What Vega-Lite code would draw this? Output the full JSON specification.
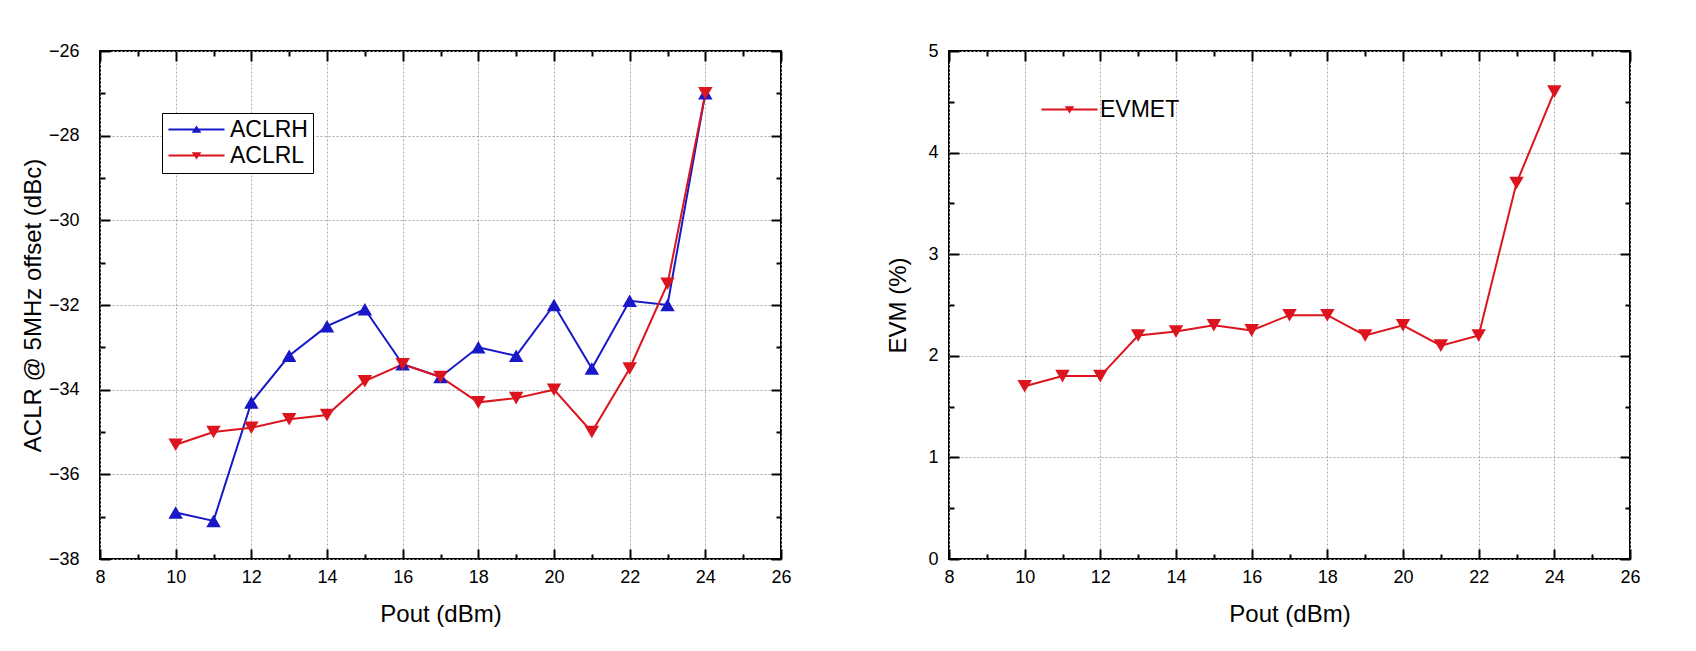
{
  "$schema": "https://vega.github.io/schema/vega-lite/v6.json",
  "padding": {"left": 20, "top": 41, "right": 0, "bottom": 0},
  "background": "white",
  "bounds": "flush",
  "spacing": 168,
  "resolve": {"scale": {"color": "independent"}},
  "datasets": {
    "aclr": [
      {"pout": 10, "series": "ACLRH", "value": -36.9},
      {"pout": 11, "series": "ACLRH", "value": -37.1},
      {"pout": 12, "series": "ACLRH", "value": -34.3},
      {"pout": 13, "series": "ACLRH", "value": -33.2},
      {"pout": 14, "series": "ACLRH", "value": -32.5},
      {"pout": 15, "series": "ACLRH", "value": -32.1},
      {"pout": 16, "series": "ACLRH", "value": -33.4},
      {"pout": 17, "series": "ACLRH", "value": -33.7},
      {"pout": 18, "series": "ACLRH", "value": -33.0},
      {"pout": 19, "series": "ACLRH", "value": -33.2},
      {"pout": 20, "series": "ACLRH", "value": -32.0},
      {"pout": 21, "series": "ACLRH", "value": -33.5},
      {"pout": 22, "series": "ACLRH", "value": -31.9},
      {"pout": 23, "series": "ACLRH", "value": -32.0},
      {"pout": 24, "series": "ACLRH", "value": -27.0},
      {"pout": 10, "series": "ACLRL", "value": -35.3},
      {"pout": 11, "series": "ACLRL", "value": -35.0},
      {"pout": 12, "series": "ACLRL", "value": -34.9},
      {"pout": 13, "series": "ACLRL", "value": -34.7},
      {"pout": 14, "series": "ACLRL", "value": -34.6},
      {"pout": 15, "series": "ACLRL", "value": -33.8},
      {"pout": 16, "series": "ACLRL", "value": -33.4},
      {"pout": 17, "series": "ACLRL", "value": -33.7},
      {"pout": 18, "series": "ACLRL", "value": -34.3},
      {"pout": 19, "series": "ACLRL", "value": -34.2},
      {"pout": 20, "series": "ACLRL", "value": -34.0},
      {"pout": 21, "series": "ACLRL", "value": -35.0},
      {"pout": 22, "series": "ACLRL", "value": -33.5},
      {"pout": 23, "series": "ACLRL", "value": -31.5},
      {"pout": 24, "series": "ACLRL", "value": -27.0}
    ],
    "evm": [
      {"pout": 10, "series": "EVMET", "value": 1.7},
      {"pout": 11, "series": "EVMET", "value": 1.8},
      {"pout": 12, "series": "EVMET", "value": 1.8},
      {"pout": 13, "series": "EVMET", "value": 2.2},
      {"pout": 14, "series": "EVMET", "value": 2.24},
      {"pout": 15, "series": "EVMET", "value": 2.3},
      {"pout": 16, "series": "EVMET", "value": 2.25},
      {"pout": 17, "series": "EVMET", "value": 2.4},
      {"pout": 18, "series": "EVMET", "value": 2.4},
      {"pout": 19, "series": "EVMET", "value": 2.2},
      {"pout": 20, "series": "EVMET", "value": 2.3},
      {"pout": 21, "series": "EVMET", "value": 2.1},
      {"pout": 22, "series": "EVMET", "value": 2.2},
      {"pout": 23, "series": "EVMET", "value": 3.7},
      {"pout": 24, "series": "EVMET", "value": 4.6}
    ]
  },
  "hconcat": [
    {
      "width": 681,
      "height": 508,
      "data": {"name": "aclr"},
      "resolve": {"axis": {"x": "independent", "y": "independent"}},
      "layer": [
        {
          "mark": {"type": "line", "strokeWidth": 2},
          "encoding": {
            "x": {"field": "pout", "type": "quantitative", "scale": {"domain": [8, 26], "nice": false, "zero": false},
              "axis": {"orient": "bottom", "values": [8, 10, 12, 14, 16, 18, 20, 22, 24, 26], "tickSize": -10, "labelPadding": 19, "grid": true, "title": "Pout (dBm)", "titlePadding": 16}},
            "y": {"field": "value", "type": "quantitative", "scale": {"domain": [-38, -26], "nice": false, "zero": false},
              "axis": {"orient": "left", "values": [-38, -36, -34, -32, -30, -28, -26], "tickSize": -10, "labelPadding": 31, "grid": true, "title": "ACLR @ 5MHz offset (dBc)", "titlePadding": 3}},
            "color": {"field": "series", "type": "nominal",
              "scale": {"domain": ["ACLRH", "ACLRL"], "range": ["#1818c8", "#dc141e"]},
              "legend": {
                "orient": "none", "legendX": 62, "legendY": 62, "title": null,
                "symbolSize": 400, "symbolStrokeWidth": 2,
                "labelFontSize": 23, "labelColor": "black", "labelOffset": 40,
                "strokeColor": "black", "fillColor": "white", "padding": 5, "rowPadding": 2,
                "encode": {"symbols": {"update": {
                  "shape": {"signal": "datum.value === 'ACLRH' ? 'M-1,0H4.6M1.5,0.22L1.8,-0.22L2.1,0.22Z' : 'M-1,0H4.6M1.5,-0.22L1.8,0.22L2.1,-0.22Z'"},
                  "fill": {"signal": "datum.value === 'ACLRH' ? '#1818c8' : '#dc141e'"},
                  "stroke": {"signal": "datum.value === 'ACLRH' ? '#1818c8' : '#dc141e'"},
                  "strokeWidth": {"value": 2},
                  "opacity": {"value": 1}
                }}}
              }
            }
          }
        },
        {
          "transform": [{"filter": "datum.series === 'ACLRH'"}],
          "mark": {"type": "point", "filled": true, "opacity": 1, "size": 210, "shape": "triangle-up"},
          "encoding": {
            "x": {"field": "pout", "type": "quantitative", "axis": null},
            "y": {"field": "value", "type": "quantitative", "axis": null},
            "color": {"field": "series", "type": "nominal", "legend": null}
          }
        },
        {
          "transform": [{"filter": "datum.series === 'ACLRL'"}],
          "mark": {"type": "point", "filled": true, "opacity": 1, "size": 210, "shape": "triangle-down"},
          "encoding": {
            "x": {"field": "pout", "type": "quantitative", "axis": null},
            "y": {"field": "value", "type": "quantitative", "axis": null},
            "color": {"field": "series", "type": "nominal", "legend": null}
          }
        },
        {
          "mark": {"type": "point", "opacity": 0},
          "encoding": {
            "x": {"field": "pout", "type": "quantitative", "axis": {"orient": "bottom", "values": [9, 11, 13, 15, 17, 19, 21, 23, 25], "tickSize": -5, "labels": false, "title": null}},
            "y": {"field": "value", "type": "quantitative", "axis": {"orient": "left", "values": [-37, -35, -33, -31, -29, -27], "tickSize": -5, "labels": false, "title": null}}
          }
        },
        {
          "mark": {"type": "point", "opacity": 0},
          "encoding": {
            "x": {"field": "pout", "type": "quantitative", "axis": {"orient": "top", "values": [8, 10, 12, 14, 16, 18, 20, 22, 24, 26], "tickSize": -10, "labels": false, "title": null}},
            "y": {"field": "value", "type": "quantitative", "axis": {"orient": "right", "values": [-38, -36, -34, -32, -30, -28, -26], "tickSize": -10, "labels": false, "title": null}}
          }
        },
        {
          "mark": {"type": "point", "opacity": 0},
          "encoding": {
            "x": {"field": "pout", "type": "quantitative", "axis": {"orient": "top", "values": [9, 11, 13, 15, 17, 19, 21, 23, 25], "tickSize": -5, "labels": false, "title": null}},
            "y": {"field": "value", "type": "quantitative", "axis": {"orient": "right", "values": [-37, -35, -33, -31, -29, -27], "tickSize": -5, "labels": false, "title": null}}
          }
        }
      ]
    },
    {
      "width": 681,
      "height": 508,
      "data": {"name": "evm"},
      "resolve": {"axis": {"x": "independent", "y": "independent"}},
      "layer": [
        {
          "mark": {"type": "line", "strokeWidth": 2},
          "encoding": {
            "x": {"field": "pout", "type": "quantitative", "scale": {"domain": [8, 26], "nice": false, "zero": false},
              "axis": {"orient": "bottom", "values": [8, 10, 12, 14, 16, 18, 20, 22, 24, 26], "tickSize": -10, "labelPadding": 19, "grid": true, "title": "Pout (dBm)", "titlePadding": 16}},
            "y": {"field": "value", "type": "quantitative", "scale": {"domain": [0, 5], "nice": false},
              "axis": {"orient": "left", "values": [0, 1, 2, 3, 4, 5], "tickSize": -10, "labelPadding": 21, "grid": true, "title": "EVM (%)", "titlePadding": 17}},
            "color": {"field": "series", "type": "nominal",
              "scale": {"domain": ["EVMET"], "range": ["#dc141e"]},
              "legend": {
                "orient": "none", "legendX": 85, "legendY": 41, "title": null,
                "symbolSize": 400, "symbolStrokeWidth": 2,
                "labelFontSize": 23, "labelColor": "black", "labelOffset": 37,
                "padding": 6,
                "encode": {"symbols": {"update": {
                  "shape": {"value": "M-1,0H4.6M1.5,-0.22L1.8,0.22L2.1,-0.22Z"},
                  "fill": {"value": "#dc141e"},
                  "stroke": {"value": "#dc141e"},
                  "strokeWidth": {"value": 2},
                  "opacity": {"value": 1}
                }}}
              }
            }
          }
        },
        {
          "mark": {"type": "point", "filled": true, "opacity": 1, "size": 210, "shape": "triangle-down"},
          "encoding": {
            "x": {"field": "pout", "type": "quantitative", "axis": null},
            "y": {"field": "value", "type": "quantitative", "axis": null},
            "color": {"field": "series", "type": "nominal", "legend": null}
          }
        },
        {
          "mark": {"type": "point", "opacity": 0},
          "encoding": {
            "x": {"field": "pout", "type": "quantitative", "axis": {"orient": "bottom", "values": [9, 11, 13, 15, 17, 19, 21, 23, 25], "tickSize": -5, "labels": false, "title": null}},
            "y": {"field": "value", "type": "quantitative", "axis": {"orient": "left", "values": [0.5, 1.5, 2.5, 3.5, 4.5], "tickSize": -5, "labels": false, "title": null}}
          }
        },
        {
          "mark": {"type": "point", "opacity": 0},
          "encoding": {
            "x": {"field": "pout", "type": "quantitative", "axis": {"orient": "top", "values": [8, 10, 12, 14, 16, 18, 20, 22, 24, 26], "tickSize": -10, "labels": false, "title": null}},
            "y": {"field": "value", "type": "quantitative", "axis": {"orient": "right", "values": [0, 1, 2, 3, 4, 5], "tickSize": -10, "labels": false, "title": null}}
          }
        },
        {
          "mark": {"type": "point", "opacity": 0},
          "encoding": {
            "x": {"field": "pout", "type": "quantitative", "axis": {"orient": "top", "values": [9, 11, 13, 15, 17, 19, 21, 23, 25], "tickSize": -5, "labels": false, "title": null}},
            "y": {"field": "value", "type": "quantitative", "axis": {"orient": "right", "values": [0.5, 1.5, 2.5, 3.5, 4.5], "tickSize": -5, "labels": false, "title": null}}
          }
        }
      ]
    }
  ],
  "config": {
    "font": "Liberation Sans",
    "view": {"stroke": "black", "strokeWidth": 2},
    "axis": {
      "domain": false, "grid": false, "tickColor": "black", "tickWidth": 2,
      "labelColor": "black", "labelFontSize": 18, "labelFlush": false, "labelOverlap": false,
      "titleFontSize": 24, "titleFontWeight": "normal", "titleColor": "black",
      "gridColor": "#a8a8a8", "gridDash": [2, 2], "gridWidth": 1
    },
    "legend": {"labelFont": "Liberation Sans"}
  }
}
